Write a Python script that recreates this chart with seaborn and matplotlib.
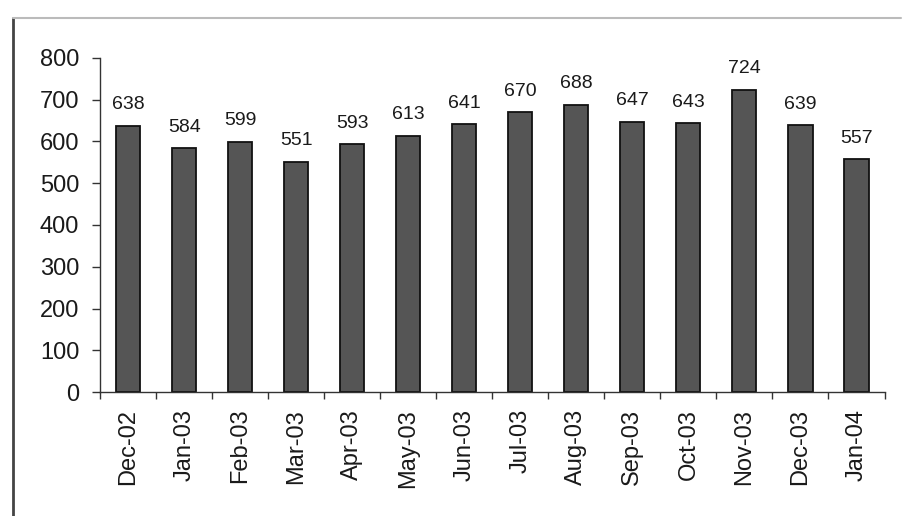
import matplotlib
matplotlib.use("Agg")
import matplotlib.pyplot as plt
import seaborn as sns
import pandas as pd
from matplotlib.lines import Line2D

months = ["Dec-02", "Jan-03", "Feb-03", "Mar-03", "Apr-03", "May-03", "Jun-03",
          "Jul-03", "Aug-03", "Sep-03", "Oct-03", "Nov-03", "Dec-03", "Jan-04"]
values = [638, 584, 599, 551, 593, 613, 641, 670, 688, 647, 643, 724, 639, 557]
yticks = [0, 100, 200, 300, 400, 500, 600, 700, 800]

sns.set_theme(style="white")
plt.rcParams["font.family"] = ["Liberation Sans", "DejaVu Sans"]

df = pd.DataFrame({"month": months, "value": values})

fig = plt.figure(figsize=(9.1, 5.16), dpi=100)
ax = fig.add_axes([0.110, 0.240, 0.862, 0.648])
sns.barplot(data=df, x="month", y="value", color="#555555", width=0.43,
            edgecolor="#111111", linewidth=1.3, saturation=1, ax=ax)

for i, v in enumerate(values):
    ax.text(i, v + 30, str(v), ha="center", va="bottom", fontsize=14,
            color="#1a1a1a")

ax.set_xlim(-0.5, len(months) - 0.5)
ax.set_ylim(0, 800)
ax.set_yticks(yticks)
ax.set_yticklabels([str(t) for t in yticks], fontsize=17, color="#1a1a1a")
ax.set_xticks(range(len(months)))
ax.set_xticklabels(months, rotation=90, fontsize=17, color="#1a1a1a")
ax.set_xlabel("")
ax.set_ylabel("")

for s in ["top", "right"]:
    ax.spines[s].set_visible(False)
for s in ["left", "bottom"]:
    ax.spines[s].set_color("#333333")
    ax.spines[s].set_linewidth(1.0)

ax.tick_params(axis="y", which="major", direction="out", length=6, width=1,
               color="#333333", left=True, pad=9)
ax.tick_params(axis="x", which="major", length=0, pad=12)
# minor ticks at category boundaries
ax.set_xticks([i - 0.5 for i in range(len(months) + 1)], minor=True)
ax.tick_params(axis="x", which="minor", direction="out", length=5, width=1,
               color="#333333", bottom=True)

# scanned frame lines
fig.add_artist(Line2D([0.014, 0.014], [0.0, 0.965], transform=fig.transFigure,
                      color="#444444", linewidth=2))
fig.add_artist(Line2D([0.014, 0.99], [0.965, 0.965], transform=fig.transFigure,
                      color="#bbbbbb", linewidth=1.5))

fig.savefig("out.png", dpi=100)
